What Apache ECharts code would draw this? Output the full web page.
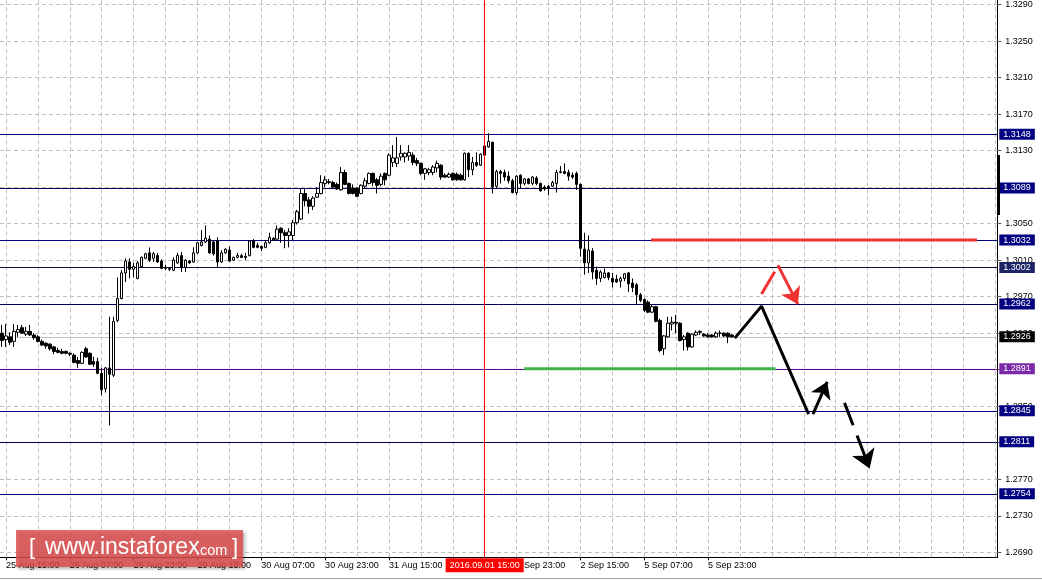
<!DOCTYPE html>
<html><head><meta charset="utf-8">
<script src="https://cdn.jsdelivr.net/npm/echarts@6/dist/echarts.min.js"></script>
<style>html,body{margin:0;padding:0;background:#fff;overflow:hidden}#c{width:1042px;height:581px}</style>
</head><body><div id="c"></div><script>
// ---- data ----
const firstBar = -1;           // bar index of first candle (0 = 25 Aug 15:00, H1 bars)
const lastBar = 248;           // last (future, empty) bar slot on the axis
// [open, close, low, high]
const candles = [
[1.2930,1.2922,1.2915,1.2939],
[1.2923,1.2927,1.2915,1.2940],
[1.2926,1.2920,1.2917,1.2931],
[1.2921,1.2932,1.2915,1.2940],
[1.2931,1.2934,1.2926,1.2939],
[1.2936,1.2930,1.2929,1.2939],
[1.2929,1.2932,1.2927,1.2937],
[1.2932,1.2928,1.2927,1.2939],
[1.2928,1.2925,1.2923,1.2930],
[1.2926,1.2921,1.2920,1.2928],
[1.2921,1.2917,1.2916,1.2923],
[1.2919,1.2916,1.2913,1.2920],
[1.2918,1.2913,1.2911,1.2919],
[1.2915,1.2910,1.2907,1.2916],
[1.2911,1.2909,1.2908,1.2914],
[1.2910,1.2908,1.2907,1.2913],
[1.2910,1.2908,1.2907,1.2911],
[1.2908,1.2907,1.2905,1.2909],
[1.2906,1.2898,1.2897,1.2908],
[1.2900,1.2897,1.2892,1.2904],
[1.2897,1.2909,1.2896,1.2910],
[1.2913,1.2904,1.2903,1.2915],
[1.2908,1.2896,1.2895,1.2909],
[1.2899,1.2896,1.2893,1.2904],
[1.2899,1.2886,1.2885,1.2903],
[1.2886,1.2868,1.2862,1.2892],
[1.2869,1.2892,1.2865,1.2893],
[1.2892,1.2885,1.2829,1.2948],
[1.2884,1.2943,1.2882,1.2948],
[1.2944,1.2968,1.2942,1.2991],
[1.2968,1.2996,1.2967,1.2999],
[1.2996,1.3009,1.2986,1.3012],
[1.3008,1.3000,1.2990,1.3012],
[1.3000,1.3003,1.2991,1.3007],
[1.2990,1.3007,1.2989,1.3009],
[1.3003,1.3013,1.3002,1.3014],
[1.3012,1.3017,1.3011,1.3018],
[1.3018,1.3010,1.3008,1.3024],
[1.3012,1.3017,1.3008,1.3019],
[1.3015,1.3008,1.3007,1.3018],
[1.3009,1.3001,1.3000,1.3011],
[1.3002,1.3001,1.2999,1.3005],
[1.3001,1.3000,1.2998,1.3002],
[1.2999,1.3010,1.2998,1.3013],
[1.3007,1.3015,1.3006,1.3018],
[1.3015,1.3002,1.2997,1.3019],
[1.3002,1.3010,1.2997,1.3011],
[1.3009,1.3007,1.3006,1.3010],
[1.3008,1.3018,1.3007,1.3024],
[1.3018,1.3029,1.3017,1.3030],
[1.3026,1.3030,1.3025,1.3043],
[1.3030,1.3034,1.3029,1.3048],
[1.3033,1.3018,1.3017,1.3037],
[1.3030,1.3017,1.3015,1.3032],
[1.3031,1.3008,1.3002,1.3035],
[1.3008,1.3018,1.3007,1.3021],
[1.3018,1.3022,1.3017,1.3023],
[1.3021,1.3009,1.3008,1.3025],
[1.3010,1.3013,1.3009,1.3014],
[1.3013,1.3015,1.3012,1.3018],
[1.3015,1.3013,1.3012,1.3017],
[1.3014,1.3013,1.3010,1.3018],
[1.3015,1.3031,1.3014,1.3032],
[1.3031,1.3024,1.3023,1.3033],
[1.3026,1.3024,1.3023,1.3029],
[1.3025,1.3023,1.3020,1.3026],
[1.3024,1.3029,1.3023,1.3032],
[1.3029,1.3035,1.3028,1.3040],
[1.3034,1.3032,1.3031,1.3035],
[1.3033,1.3044,1.3032,1.3048],
[1.3045,1.3040,1.3029,1.3046],
[1.3040,1.3037,1.3023,1.3043],
[1.3037,1.3041,1.3024,1.3045],
[1.3037,1.3051,1.3032,1.3054],
[1.3051,1.3063,1.3049,1.3065],
[1.3055,1.3083,1.3054,1.3089],
[1.3083,1.3075,1.3069,1.3088],
[1.3076,1.3069,1.3061,1.3079],
[1.3069,1.3078,1.3065,1.3080],
[1.3079,1.3083,1.3078,1.3090],
[1.3083,1.3095,1.3082,1.3103],
[1.3094,1.3098,1.3090,1.3102],
[1.3095,1.3096,1.3093,1.3099],
[1.3095,1.3090,1.3089,1.3097],
[1.3093,1.3088,1.3087,1.3095],
[1.3087,1.3106,1.3086,1.3112],
[1.3106,1.3093,1.3092,1.3109],
[1.3094,1.3083,1.3082,1.3095],
[1.3089,1.3083,1.3082,1.3093],
[1.3089,1.3080,1.3079,1.3090],
[1.3083,1.3092,1.3082,1.3093],
[1.3091,1.3097,1.3089,1.3100],
[1.3094,1.3105,1.3093,1.3106],
[1.3105,1.3095,1.3091,1.3106],
[1.3098,1.3092,1.3083,1.3100],
[1.3093,1.3102,1.3091,1.3105],
[1.3105,1.3098,1.3092,1.3106],
[1.3103,1.3125,1.3102,1.3127],
[1.3117,1.3122,1.3112,1.3136],
[1.3116,1.3122,1.3112,1.3145],
[1.3123,1.3127,1.3119,1.3136],
[1.3123,1.3127,1.3117,1.3128],
[1.3124,1.3128,1.3119,1.3136],
[1.3125,1.3117,1.3114,1.3128],
[1.3119,1.3116,1.3113,1.3122],
[1.3116,1.3105,1.3103,1.3117],
[1.3105,1.3110,1.3098,1.3111],
[1.3106,1.3109,1.3103,1.3111],
[1.3106,1.3112,1.3103,1.3114],
[1.3111,1.3116,1.3106,1.3119],
[1.3114,1.3101,1.3098,1.3115],
[1.3103,1.3101,1.3100,1.3105],
[1.3101,1.3104,1.3100,1.3106],
[1.3105,1.3098,1.3097,1.3106],
[1.3104,1.3098,1.3097,1.3106],
[1.3103,1.3098,1.3097,1.3105],
[1.3098,1.3127,1.3097,1.3128],
[1.3127,1.3109,1.3101,1.3128],
[1.3109,1.3117,1.3103,1.3123],
[1.3117,1.3114,1.3112,1.3128],
[1.3114,1.3126,1.3113,1.3127],
[1.3125,1.3135,1.3124,1.3136],
[1.3134,1.3140,1.3133,1.3149],
[1.3139,1.3090,1.3083,1.3140],
[1.3091,1.3107,1.3088,1.3109],
[1.3107,1.3105,1.3094,1.3109],
[1.3106,1.3101,1.3097,1.3109],
[1.3102,1.3097,1.3094,1.3107],
[1.3097,1.3084,1.3083,1.3099],
[1.3084,1.3102,1.3081,1.3103],
[1.3103,1.3094,1.3089,1.3104],
[1.3094,1.3099,1.3092,1.3100],
[1.3099,1.3094,1.3093,1.3100],
[1.3094,1.3101,1.3092,1.3102],
[1.3100,1.3094,1.3092,1.3102],
[1.3094,1.3086,1.3085,1.3095],
[1.3090,1.3088,1.3086,1.3092],
[1.3091,1.3089,1.3081,1.3092],
[1.3091,1.3095,1.3090,1.3097],
[1.3094,1.3106,1.3084,1.3109],
[1.3106,1.3107,1.3105,1.3113],
[1.3107,1.3105,1.3104,1.3116],
[1.3106,1.3102,1.3097,1.3109],
[1.3103,1.3101,1.3099,1.3106],
[1.3105,1.3093,1.3087,1.3107],
[1.3093,1.3023,1.3014,1.3094],
[1.3022,1.3007,1.2994,1.3040],
[1.3007,1.3021,1.2996,1.3037],
[1.3020,1.2997,1.2989,1.3023],
[1.2999,1.2990,1.2983,1.3003],
[1.2990,1.2997,1.2986,1.2999],
[1.2991,1.2996,1.2990,1.3001],
[1.2996,1.2991,1.2988,1.2997],
[1.2990,1.2986,1.2980,1.2996],
[1.2989,1.2986,1.2985,1.2994],
[1.2987,1.2990,1.2980,1.2992],
[1.2990,1.2995,1.2987,1.2996],
[1.2996,1.2984,1.2975,1.2997],
[1.2985,1.2980,1.2975,1.2990],
[1.2983,1.2972,1.2962,1.2985],
[1.2972,1.2966,1.2964,1.2974],
[1.2967,1.2955,1.2953,1.2968],
[1.2964,1.2953,1.2952,1.2966],
[1.2953,1.2959,1.2952,1.2961],
[1.2959,1.2943,1.2942,1.2960],
[1.2944,1.2911,1.2909,1.2946],
[1.2913,1.2927,1.2906,1.2928],
[1.2926,1.2941,1.2925,1.2948],
[1.2940,1.2942,1.2933,1.2948],
[1.2942,1.2941,1.2930,1.2950],
[1.2941,1.2922,1.2921,1.2942],
[1.2923,1.2926,1.2911,1.2928],
[1.2930,1.2915,1.2911,1.2931],
[1.2915,1.2929,1.2914,1.2930],
[1.2928,1.2931,1.2927,1.2933],
[1.2932,1.2931,1.2928,1.2933],
[1.2929,1.2927,1.2926,1.2930],
[1.2928,1.2926,1.2925,1.2930],
[1.2928,1.2926,1.2925,1.2929],
[1.2926,1.2930,1.2925,1.2932],
[1.2930,1.2930,1.2926,1.2933],
[1.2930,1.2927,1.2926,1.2931],
[1.2930,1.2926,1.2919,1.2931],
[1.2928,1.2926,1.2925,1.2929]
];
const labelStep = 16;   // a time label every 16 bars
const gridStep = 8;     // a vertical grid line every 8 bars
const xLabels = ['25 Aug 15:00','26 Aug 07:00','26 Aug 23:00','29 Aug 15:00','30 Aug 07:00','30 Aug 23:00',
                 '31 Aug 15:00','1 Sep 07:00','1 Sep 23:00','2 Sep 15:00','5 Sep 07:00','5 Sep 23:00'];
const yTicks = [1.2690,1.2730,1.2770,1.2810,1.2850,1.2890,1.2930,1.2970,1.3010,1.3050,1.3090,1.3130,1.3170,1.3210,1.3250,1.3290];
const levels = [1.3148,1.3089,1.3032,1.3002,1.2962,1.2891,1.2845,1.2811,1.2754];
const levelLineColors = ['#000080','#000060','#000080','#101040','#000060','#660099','#000080','#000050','#000080'];
const levelBoxColors  = ['#000080','#000080','#000080','#1c2466','#000080','#7a2aa8','#000080','#000080','#000080'];
const bidPrice = 1.2926;
const crosshairBar = 120;
const crosshairText = '2016.09.01 15:00';
// drawn forecast objects: [bar index, price]
const resistanceLine = [[161.7,1.3032],[243.4,1.3032]];
const supportLine = [[129.9,1.2891],[192.9,1.2891]];
const blackPath = [[182.7,1.29246],[189.4,1.29596],[201.2,1.28414]];
const blackArrowUp = [[202.3,1.28414],[205.85,1.28767]];
const blackArrowDown = [[210.2,1.28537],[216.5,1.27819]];
const redPath = [[189.4,1.29728],[192.7,1.29972]];
const redArrow = [[193.5,1.30045],[198.5,1.29618]];

// ---- chart ----
const FONT = '"Liberation Sans", Arial, sans-serif';
const categories = [];
for (let b = firstBar; b <= lastBar; b++) categories.push(String(b));
const gridBars = [];
for (let b = 0; b <= lastBar; b += gridStep) gridBars.push(b);

const showLabel = (idx) => { const b = idx + firstBar; return b >= 0 && b % labelStep === 0 && b / labelStep < xLabels.length; };

const chart = echarts.init(document.getElementById('c'));
const option = {
  animation: false,
  backgroundColor: '#ffffff',
  textStyle: { fontFamily: FONT },
  grid: { left: -2.7, right: 44.7, top: 0, bottom: 23.7, containLabel: false },
  xAxis: [
    { type: 'category', data: categories, boundaryGap: true,
      axisLine: { show: true, lineStyle: { color: '#000', width: 1 } },
      axisTick: { show: true, alignWithLabel: true, interval: showLabel, length: 3, lineStyle: { color: '#000' } },
      axisLabel: { show: true, interval: showLabel, align: 'left', margin: 4, fontSize: 9, color: '#000', fontFamily: FONT,
        formatter: (v) => xLabels[(Number(v)) / labelStep] },
      splitLine: { show: false } },
    { type: 'value', min: firstBar - 0.5, max: lastBar + 0.5, show: false, splitLine: { show: false } }
  ],
  yAxis: [{ type: 'value', position: 'right', min: 1.268453, max: 1.32947, scale: true,
    axisLine: { show: true, onZero: false, lineStyle: { color: '#000', width: 1 } },
    axisTick: { show: true, customValues: yTicks, length: 4, lineStyle: { color: '#555' } },
    axisLabel: { show: true, customValues: yTicks, margin: 8, fontSize: 9, color: '#000', fontFamily: FONT,
      formatter: (v) => v.toFixed(4) },
    splitLine: { show: false } }],
  graphic: [
    { type: 'rect', shape: { x: 997, y: 155, width: 3, height: 60 }, style: { fill: '#000' }, z: 50 },
    { type: 'rect', shape: { x: 16, y: 530, width: 227, height: 37 },
      style: { fill: 'rgba(222,76,76,0.82)', shadowBlur: 3, shadowColor: 'rgba(0,0,0,0.35)', shadowOffsetX: 2, shadowOffsetY: 2 }, z: 100 },
    { type: 'text', x: 29, y: 548, style: { text: '[', fill: '#fff', font: '22px ' + FONT, verticalAlign: 'middle' }, z: 101 },
    { type: 'text', x: 45, y: 548, style: { text: 'www.instaforex', fill: '#fff', font: '23px ' + FONT, verticalAlign: 'middle' }, z: 101 },
    { type: 'text', x: 196, y: 551, style: { text: '.com', fill: '#fff', font: '14.5px ' + FONT, verticalAlign: 'middle' }, z: 101 },
    { type: 'text', x: 232, y: 548, style: { text: ']', fill: '#fff', font: '22px ' + FONT, verticalAlign: 'middle' }, z: 101 },
    { type: 'rect', shape: { x: 0, y: 578, width: 1042, height: 1 }, style: { fill: '#a0a0a0' }, z: 50 }
  ],
  series: [
    { name: 'grid', type: 'line', xAxisIndex: 1, yAxisIndex: 0, data: [], z: 1, silent: true,
      markLine: { z: 1, silent: true, symbol: 'none', precision: 5, label: { show: false },
        lineStyle: { color: '#c0c0c0', type: [4, 3], width: 1 },
        data: gridBars.map(b => ({ xAxis: b })).concat(yTicks.map(v => ({ yAxis: v }))) } },
    { name: 'bid', type: 'line', xAxisIndex: 1, yAxisIndex: 0, data: [], z: 2, silent: true,
      markLine: { z: 2, silent: true, symbol: 'none', precision: 5,
        lineStyle: { color: '#c0c0c0', type: 'solid', width: 1 },
        label: { show: true, position: 'end', distance: 2, formatter: (p) => Number(p.value).toFixed(4), color: '#fff',
          backgroundColor: '#000', padding: [1, 4, 0, 4], fontSize: 9, lineHeight: 10, fontFamily: FONT },
        data: [{ yAxis: bidPrice }] } },
    { name: 'levels', type: 'line', xAxisIndex: 1, yAxisIndex: 0, data: [], z: 2, silent: true,
      markLine: { z: 2, silent: true, symbol: 'none', precision: 5,
        lineStyle: { type: 'solid', width: 1 },
        label: { show: true, position: 'end', distance: 2, formatter: (p) => Number(p.value).toFixed(4), color: '#fff',
          padding: [1, 4, 0, 4], fontSize: 9, lineHeight: 10, fontFamily: FONT },
        data: levels.map((v, k) => ({ yAxis: v, lineStyle: { color: levelLineColors[k] }, label: { backgroundColor: levelBoxColors[k] } })) } },
    { name: 'GBPUSD', type: 'candlestick', xAxisIndex: 0, yAxisIndex: 0, data: candles, z: 3, barWidth: 3,
      itemStyle: { color: '#ffffff', color0: '#000000', borderColor: '#000000', borderColor0: '#000000', borderWidth: 1 } },
    { name: 'resistance', type: 'line', xAxisIndex: 1, data: resistanceLine, symbol: 'none', z: 4, silent: true,
      lineStyle: { color: '#f03232', width: 3 } },
    { name: 'support', type: 'line', xAxisIndex: 1, data: supportLine, symbol: 'none', z: 4, silent: true,
      lineStyle: { color: '#3cb44a', width: 3 } },
    { name: 'blackPath', type: 'line', xAxisIndex: 1, data: blackPath, symbol: 'none', z: 4, silent: true,
      lineStyle: { color: '#000', width: 3 } },
    { name: 'redPath', type: 'line', xAxisIndex: 1, data: redPath, symbol: 'none', z: 4, silent: true,
      lineStyle: { color: '#f03232', width: 3 } },
    { name: 'redArrow', type: 'line', xAxisIndex: 1, data: [], z: 4, silent: true,
      markLine: { z: 4, silent: true, symbol: ['none', 'arrow'], symbolSize: 16, precision: 5, label: { show: false },
        lineStyle: { color: '#f03232', width: 3, type: 'solid' },
        data: [[{ coord: redArrow[0] }, { coord: redArrow[1] }]] } },
    { name: 'blackArrowUp', type: 'line', xAxisIndex: 1, data: [], z: 4, silent: true,
      markLine: { z: 4, silent: true, symbol: ['none', 'arrow'], symbolSize: 16, precision: 5, label: { show: false },
        lineStyle: { color: '#000', width: 3, type: 'solid' },
        data: [[{ coord: blackArrowUp[0] }, { coord: blackArrowUp[1] }]] } },
    { name: 'blackArrowDown', type: 'line', xAxisIndex: 1, data: [], z: 4, silent: true,
      markLine: { z: 4, silent: true, symbol: ['none', 'arrow'], symbolSize: 18, precision: 5, label: { show: false },
        lineStyle: { color: '#000', width: 3, type: [24, 11] },
        data: [[{ coord: blackArrowDown[0] }, { coord: blackArrowDown[1] }]] } },
    { name: 'crosshair', type: 'line', xAxisIndex: 1, data: [], z: 5, silent: true,
      markLine: { z: 5, silent: true, symbol: 'none', precision: 5,
        lineStyle: { color: '#ff0000', width: 1, type: 'solid' },
        label: { show: true, position: 'start', distance: 1, formatter: crosshairText, color: '#fff',
          backgroundColor: '#ff0000', padding: [3, 4, 2, 4], fontSize: 9, fontFamily: FONT },
        data: [{ xAxis: crosshairBar }] } }
  ]
};
chart.setOption(option);
</script></body></html>
